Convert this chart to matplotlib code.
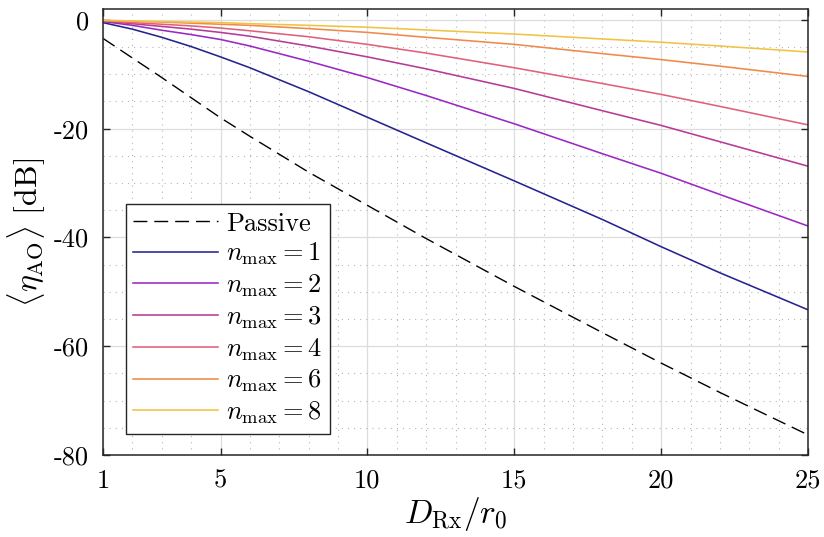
import matplotlib
matplotlib.use("Agg")
import matplotlib.pyplot as plt
from matplotlib.ticker import MultipleLocator, FixedLocator, FixedFormatter

plt.rcParams["font.family"] = "serif"
plt.rcParams["font.serif"] = ["cmr10"]
plt.rcParams["mathtext.fontset"] = "cm"
plt.rcParams["axes.unicode_minus"] = False

# Normalised aperture D_Rx / r0
d_ratio = [1, 2, 3, 4, 5, 6, 8, 10, 12, 15, 18, 20, 22, 25]

# Mean coupling efficiency <eta_AO> in dB
passive = [-3.4, -7.0, -10.6, -14.3, -18.0, -21.4, -28.0, -34.1, -40.2, -49.0, -57.5, -63.1, -68.5, -76.3]
n_max_1 = [-0.5, -1.7, -3.2, -4.9, -6.8, -8.8, -13.2, -17.9, -22.6, -29.6, -36.7, -41.7, -46.5, -53.3]
n_max_2 = [-0.3, -1.0, -1.9, -2.7, -3.6, -4.8, -7.6, -10.6, -13.9, -19.1, -24.6, -28.2, -32.1, -37.9]
n_max_3 = [-0.2, -0.7, -1.2, -1.7, -2.3, -3.0, -4.8, -6.8, -9.0, -12.6, -16.7, -19.4, -22.4, -26.9]
n_max_4 = [-0.15, -0.5, -0.8, -1.1, -1.5, -2.0, -3.1, -4.5, -6.1, -8.8, -11.7, -13.7, -15.9, -19.3]
n_max_6 = [-0.1, -0.3, -0.4, -0.6, -0.8, -1.0, -1.6, -2.3, -3.2, -4.5, -6.2, -7.3, -8.5, -10.4]
n_max_8 = [-0.05, -0.2, -0.3, -0.4, -0.5, -0.7, -1.0, -1.35, -1.85, -2.6, -3.5, -4.1, -4.8, -5.9]

series = [n_max_1, n_max_2, n_max_3, n_max_4, n_max_6, n_max_8]
n_values = [1, 2, 3, 4, 6, 8]
colors = ["#25248f", "#9b27c4", "#b73a96", "#e0607c", "#f0894b", "#f2c242"]

x_ticks = [1, 5, 10, 15, 20, 25]
y_ticks = [-80, -60, -40, -20, 0]
y_tick_labels = ["-80", "-60", "-40", "-20", "0"]

fig = plt.figure(figsize=(8.24, 5.37), dpi=100)
ax = fig.add_axes([0.125, 0.1527, 0.8556, 0.8305])

ax.plot(d_ratio, passive, color="black", lw=1.0, dashes=(10, 5), label="Passive")
for vals, n, c in zip(series, n_values, colors):
    ax.plot(d_ratio, vals, color=c, lw=1.15, label=rf"$n_{{\rm max}}={n}$")

ax.set_xlim(1, 25)
ax.set_ylim(-80, 2)
ax.xaxis.set_major_locator(FixedLocator(x_ticks))
ax.xaxis.set_minor_locator(MultipleLocator(1))
ax.yaxis.set_major_locator(FixedLocator(y_ticks))
ax.yaxis.set_major_formatter(FixedFormatter(y_tick_labels))
ax.yaxis.set_minor_locator(MultipleLocator(5))

ax.grid(which="major", color="#dddddd", lw=0.9, ls="-")
ax.grid(which="minor", color="#b5b5b5", lw=0.8, ls=(0, (1, 4.5)))
ax.set_axisbelow(True)

ax.tick_params(which="major", direction="in", length=5, width=1.0,
               top=True, right=True, labelsize=19, color="#262626", pad=10)
ax.tick_params(which="minor", length=0)
for s in ax.spines.values():
    s.set_linewidth(1.1)
    s.set_color("#262626")

ax.set_xlabel(r"$D_{\rm Rx}/r_0$", fontsize=24, labelpad=2)
ax.set_ylabel(r"$\langle \eta_{\rm AO} \rangle$ [dB]", fontsize=23, labelpad=4)

leg = ax.legend(loc="lower left", bbox_to_anchor=(0.032, 0.047), borderaxespad=0,
                fontsize=19, fancybox=False, framealpha=1, edgecolor="#262626",
                handlelength=3.2, handletextpad=0.3, labelspacing=0.2,
                borderpad=0.3)
leg.get_frame().set_linewidth(1.0)

fig.savefig("out.png", dpi=100)
